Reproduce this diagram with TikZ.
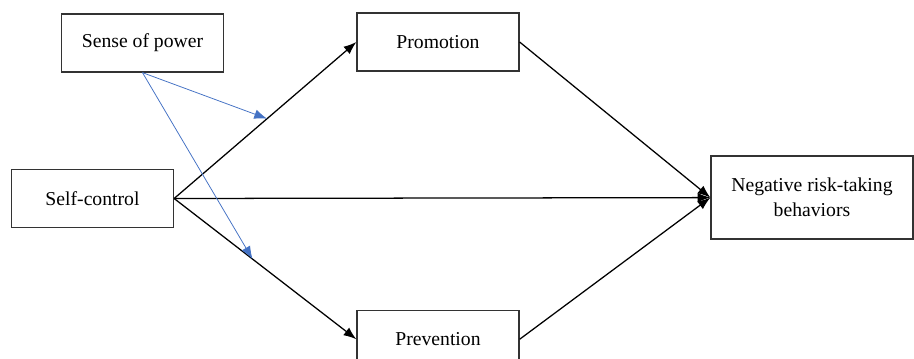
\documentclass[tikz,border=0pt]{standalone}
\usepackage{fontspec}
\setmainfont{Liberation Serif}
\usepackage{tikz}
\usetikzlibrary{arrows.meta, positioning}

\definecolor{modblue}{RGB}{68,114,196}
\tikzset{
  var/.style={draw=black!80, line width=0.9pt, minimum width=4.05cm, minimum height=1.45cm, align=center, font=\fontsize{14}{18}\selectfont},
  path/.style={-{Latex[length=3.2mm, width=2.4mm]}, line width=0.9pt},
  moder/.style={-{Latex[length=3.2mm, width=2.4mm]}, draw=modblue, line width=0.55pt}
}

\begin{document}
\begin{tikzpicture}
			\useasboundingbox (0,0) rectangle (22.85,-8.975);
			\node[var] (sc) at (2.3125,-4.9625) {Self-control};
			\node[var] (sop) at (3.5625,-1.075) {Sense of power};
			\node[var] (promo) at (10.95,-1.05) {Promotion};
			\node[var] (prev) [below=5.95cm of promo.south, anchor=north] {Prevention};
			\node[var, minimum width=5.05cm, minimum height=2.075cm] (nrt) at (20.3,-4.94) {Negative risk-taking\\behaviors};

			\path[path]
			(sc.east) edge coordinate[pos=0.51] (m1) (promo.west)
			(sc.east) edge coordinate[pos=0.43] (m2) (prev.west)
			(sc.east) edge (nrt.west)
			(promo.east) edge (nrt.west)
			(prev.east) edge (nrt.west);

			% moderation
			\draw[moder] (sop.south) -- (m1);
			\draw[moder] (sop.south) -- (m2);
		\end{tikzpicture}
\end{document}
